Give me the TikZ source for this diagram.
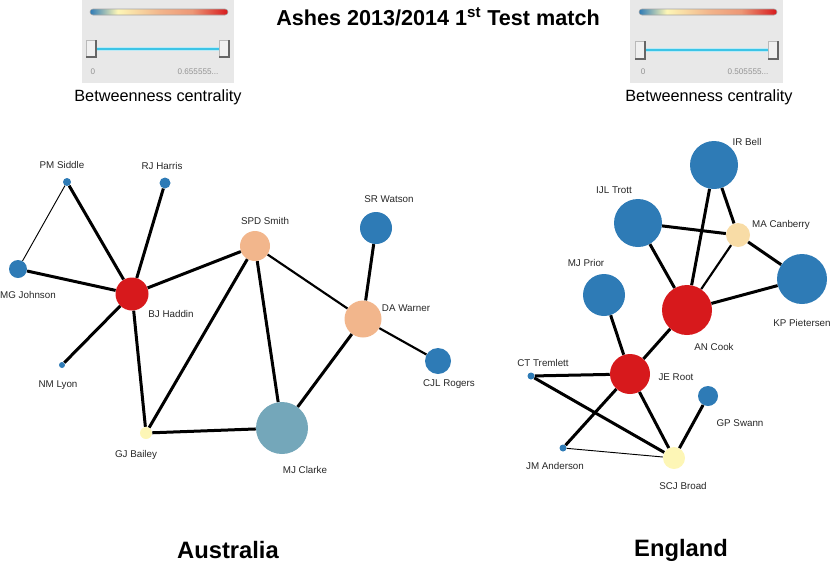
\documentclass[tikz,border=0pt]{standalone}
\usepackage{fontspec}
\setmainfont{Liberation Sans}
\usetikzlibrary{positioning}
\definecolor{cbblue}{HTML}{2E7BB6}
\definecolor{cbred}{HTML}{D7191C}
\definecolor{cbpeach}{HTML}{F2B68C}
\definecolor{cbcream}{HTML}{FDF6B6}
\definecolor{cbwheat}{HTML}{F8DCA6}
\definecolor{cbteal}{HTML}{74A7BA}
\definecolor{panelgray}{HTML}{E8E8E8}
\definecolor{slidecyan}{HTML}{3CC4E6}
\pgfdeclarehorizontalshading{betweenbar}{100bp}{color(0bp)=(cbblue); color(25bp)=(cbblue); color(35bp)=(cbcream); color(50bp)=(cbpeach); color(62bp)=(cbpeach!80!cbred); color(75bp)=(cbred); color(100bp)=(cbred)}
\tikzset{
  player/.style={circle, inner sep=0pt, minimum size=#1},
  pname/.style={font=\fontsize{7.35}{8}\selectfont, text=black!85, inner sep=0pt, text height=1.45ex, text depth=.25ex},
  hardlink/.style={line width=2.25pt},
  midlink/.style={line width=1.6pt},
  thinlink/.style={line width=0.7pt},
  panel/.style={fill=panelgray, draw=none},
  colbar/.style={shading=betweenbar, draw=gray!70, line width=0.4pt, rounded corners=2.2pt},
  track/.style={slidecyan, line width=2pt},
  knob/.style={fill=gray!12, draw=gray!55, line width=0.5pt},
  knobshade/.style={black!60, line width=0.9pt},
  ticklabel/.style={font=\fontsize{6.1}{7}\selectfont, text=gray!85, inner sep=0pt},
  legendtitle/.style={font=\fontsize{12.2}{14}\selectfont, inner sep=0pt},
  teamname/.style={font=\fontsize{17.8}{20}\selectfont\bfseries, inner sep=0pt}
}
\begin{document}
\begin{tikzpicture}[x=0.75pt, y=-0.75pt]
      \useasboundingbox (0,0) rectangle (830,564);
      \node[font=\fontsize{16.2}{19}\selectfont\bfseries, inner sep=0pt] (title) at (438,17) {Ashes 2013/2014 1\textsuperscript{st} Test match};
      % betweenness legends
      \fill[panel] (82,0) rectangle (234,83);
      \path[colbar] (90,9) rectangle (228,15);
      \draw[slidecyan!35, line width=3.6pt] (96,49) -- (219,49);
      \draw[track] (96,49) -- (219,49);
      \draw[knob] (86,40) rectangle (96,57);
      \draw[knobshade] (96,40) -- (96,57) -- (86,57);
      \draw[knob] (219,40) rectangle (229,57);
      \draw[knobshade] (229,40) -- (229,57) -- (219,57);
      \node[ticklabel] (lmin) at (93,72) {0};
      \node[ticklabel] (lmax) at (198,72) {0.655555...};
      \node[legendtitle] (llegend) at (158,97) {Betweenness centrality};
      \fill[panel] (630,0) rectangle (783,83);
      \path[colbar] (639,9) rectangle (777,15);
      \draw[slidecyan!35, line width=3.6pt] (645,50) -- (768,50);
      \draw[track] (645,50) -- (768,50);
      \draw[knob] (635,41) rectangle (645,59);
      \draw[knobshade] (645,41) -- (645,59) -- (635,59);
      \draw[knob] (768,41) rectangle (778,59);
      \draw[knobshade] (778,41) -- (778,59) -- (768,59);
      \node[ticklabel] (rmin) at (643,72) {0};
      \node[ticklabel] (rmax) at (748,72) {0.505555...};
      \node[legendtitle] (rlegend) at (709,97) {Betweenness centrality};
      % Australia
      \node[player=6pt, fill=cbblue] (siddle) at (67,182) {};
      \node[player=8.25pt, fill=cbblue] (harris) at (165,183) {};
      \node[player=13.5pt, fill=cbblue] (johnson) at (18,269) {};
      \node[player=24.75pt, fill=cbred] (haddin) at (132,294) {};
      \node[player=4.5pt, fill=cbblue] (lyon) at (62,365) {};
      \node[player=22.5pt, fill=cbpeach] (smith) at (255,246) {};
      \node[player=24pt, fill=cbblue] (watson) at (376,228) {};
      \node[player=27.75pt, fill=cbpeach] (warner) at (363,319) {};
      \node[player=19.5pt, fill=cbblue] (rogers) at (438,361) {};
      \node[player=9pt, fill=cbcream] (bailey) at (146,433) {};
      \node[player=39pt, fill=cbteal] (clarke) at (282,428) {};
      \node[pname] (siddle-l) at (62,164) {PM Siddle};
      \node[pname] (harris-l) at (162,165) {RJ Harris};
      \node[pname] (johnson-l) at (28,294) {MG Johnson};
      \node[pname] (haddin-l) at (171,313) {BJ Haddin};
      \node[pname] (lyon-l) at (58,383) {NM Lyon};
      \node[pname] (smith-l) at (265,220) {SPD Smith};
      \node[pname] (watson-l) at (389,198) {SR Watson};
      \node[pname] (warner-l) at (406,307) {DA Warner};
      \node[pname] (rogers-l) at (449,382) {CJL Rogers};
      \node[pname] (bailey-l) at (136,453) {GJ Bailey};
      \node[pname] (clarke-l) at (305,469) {MJ Clarke};
      \draw[thinlink] (siddle) -- (johnson);
      \draw[hardlink] (siddle) -- (haddin);
      \draw[hardlink] (harris) -- (haddin);
      \draw[hardlink] (johnson) -- (haddin);
      \draw[hardlink] (lyon) -- (haddin);
      \draw[hardlink] (haddin) -- (smith);
      \draw[hardlink] (haddin) -- (bailey);
      \draw[hardlink] (smith) -- (bailey);
      \draw[hardlink] (smith) -- (clarke);
      \draw[midlink] (smith) -- (warner);
      \draw[hardlink] (watson) -- (warner);
      \draw[midlink] (warner) -- (rogers);
      \draw[hardlink] (warner) -- (clarke);
      \draw[hardlink] (bailey) -- (clarke);
      % England
      \node[player=36pt, fill=cbblue] (bell) at (714,165) {};
      \node[player=36pt, fill=cbblue] (trott) at (638,223) {};
      \node[player=18pt, fill=cbwheat] (canberry) at (738,235) {};
      \node[player=31.5pt, fill=cbblue] (prior) at (604,295) {};
      \node[player=37.5pt, fill=cbblue] (pietersen) at (802,279) {};
      \node[player=37.5pt, fill=cbred] (cook) at (687,310) {};
      \node[player=30pt, fill=cbred] (root) at (630,374) {};
      \node[player=5.25pt, fill=cbblue] (tremlett) at (531,376) {};
      \node[player=15pt, fill=cbblue] (swann) at (708,396) {};
      \node[player=5.25pt, fill=cbblue] (anderson) at (563,448) {};
      \node[player=16.5pt, fill=cbcream] (broad) at (674,458) {};
      \node[pname] (bell-l) at (747,141) {IR Bell};
      \node[pname] (trott-l) at (614,189) {IJL Trott};
      \node[pname] (canberry-l) at (781,223) {MA Canberry};
      \node[pname] (prior-l) at (586,262) {MJ Prior};
      \node[pname] (pietersen-l) at (802,322) {KP Pietersen};
      \node[pname] (cook-l) at (714,346) {AN Cook};
      \node[pname] (root-l) at (676,376) {JE Root};
      \node[pname] (tremlett-l) at (543,362) {CT Tremlett};
      \node[pname] (swann-l) at (740,422) {GP Swann};
      \node[pname] (anderson-l) at (555,465) {JM Anderson};
      \node[pname] (broad-l) at (683,485) {SCJ Broad};
      \draw[hardlink] (bell) -- (canberry);
      \draw[hardlink] (bell) -- (cook);
      \draw[hardlink] (trott) -- (canberry);
      \draw[hardlink] (trott) -- (cook);
      \draw[midlink] (canberry) -- (cook);
      \draw[hardlink] (canberry) -- (pietersen);
      \draw[hardlink] (pietersen) -- (cook);
      \draw[hardlink] (prior) -- (root);
      \draw[hardlink] (cook) -- (root);
      \draw[hardlink] (tremlett) -- (root);
      \draw[hardlink] (tremlett) -- (broad);
      \draw[hardlink] (root) -- (anderson);
      \draw[hardlink] (root) -- (broad);
      \draw[thinlink] (anderson) -- (broad);
      \draw[hardlink] (swann) -- (broad);
      \node[teamname] (aus) at (228,550) {Australia};
      \node[teamname] (eng) at (681,550) {England};
    \end{tikzpicture}
\end{document}
